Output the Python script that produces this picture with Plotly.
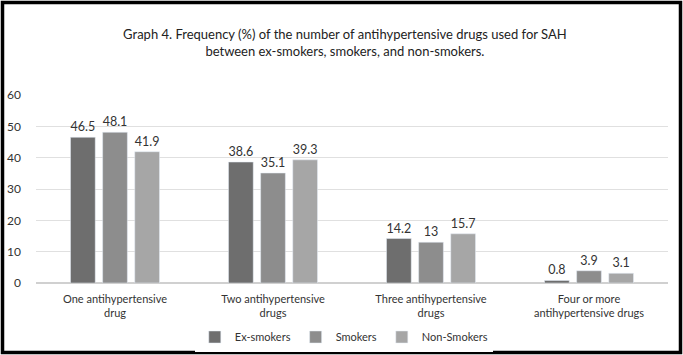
import plotly.graph_objects as go

categories = ["One antihypertensive<br>drug", "Two antihypertensive<br>drugs",
              "Three antihypertensive<br>drugs", "Four or more<br>antihypertensive drugs"]
ex_smokers = [46.5, 38.6, 14.2, 0.8]
smokers = [48.1, 35.1, 13, 3.9]
non_smokers = [41.9, 39.3, 15.7, 3.1]
series_names = ["Ex-smokers", "Smokers", "Non-Smokers"]
colors = ["#6e6e6e", "#8d8d8d", "#a6a6a6"]

W, H = 683, 355
ml, mr, mt, mb = 36, 15, 95, 72
pw, ph = W - ml - mr, H - mt - mb

fig = go.Figure()
for name, vals, c in zip(series_names, [ex_smokers, smokers, non_smokers], colors):
    fig.add_trace(go.Bar(
        x=categories, y=vals, name=name, marker_color=c,
        text=[str(v) for v in vals], textposition="outside",
        textfont=dict(size=12.5, color="#333"), cliponaxis=False,
    ))

def px_x(p):
    return (p - ml) / pw

def px_y(p):
    return (H - mb - p) / ph

fig.update_layout(
    width=W, height=H,
    margin=dict(l=ml, r=mr, t=mt, b=mb, autoexpand=False),
    paper_bgcolor="white", plot_bgcolor="white",
    font=dict(family="Lato, Open Sans, sans-serif", color="#333"),
    title=dict(text="Graph 4. Frequency (%) of the number of antihypertensive drugs used for SAH<br>between ex-smokers, smokers, and non-smokers.",
               x=0.505, xanchor="center", y=1 - 39 / H, yanchor="middle",
               font=dict(size=13, color="#222")),
    barmode="group", bargap=0.39, bargroupgap=0.23,
    showlegend=True,
    legend=dict(orientation="h", x=0.487, xanchor="center", y=px_y(337), yanchor="middle",
                font=dict(size=11, color="#333"), traceorder="normal",
                itemwidth=30),
    shapes=[dict(type="rect", xref="paper", yref="paper",
                 x0=px_x(2.5), x1=px_x(680.5), y0=px_y(352.5), y1=px_y(2.5),
                 line=dict(color="black", width=3.5), layer="above")],
)
fig.update_yaxes(range=[0, 60], dtick=10, showgrid=True, gridcolor="#e0e0e0",
                 zeroline=True, zerolinecolor="#d0d0d0", ticks="",
                 tickfont=dict(size=12, color="#333"), ticklabelstandoff=14,
                 automargin=False)
fig.update_xaxes(tickfont=dict(size=11, color="#333"), showline=False, ticks="",
                 ticklabelstandoff=8, automargin=False)

fig.write_html("out.html", config={"displayModeBar": False},
               post_script="document.body.style.margin='0';document.body.style.overflow='hidden';")
